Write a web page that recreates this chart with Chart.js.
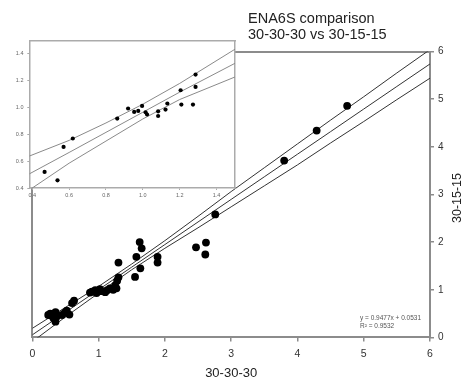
<!DOCTYPE html>
<html><head><meta charset="utf-8">
<script src="https://cdn.jsdelivr.net/npm/chart.js@4.4.1/dist/chart.umd.min.js"></script>
<style>
html,body{margin:0;padding:0;background:#fff;}
#wrap{position:relative;width:466px;height:381px;overflow:hidden;}
canvas{position:absolute;left:0;top:0;}
</style></head><body>
<div id="wrap"><canvas id="main" width="466" height="381"></canvas><canvas id="inset" width="466" height="381"></canvas></div>
<script>
// ---- text ----
const titleLines = ['ENA6S comparison', '30-30-30 vs 30-15-15'];
const xAxisTitle = '30-30-30';
const yAxisTitle = '30-15-15';
const equationLines = ['y = 0.9477x + 0.0531', 'R\u00B2 = 0.9532'];

// ---- main chart data ----
const mainTicks = [0, 1, 2, 3, 4, 5, 6];
const mainX = [0.24, 0.27, 0.32, 0.35, 0.37, 0.30, 0.35, 0.49, 0.56, 0.52, 0.45, 0.60, 0.63,
  0.87, 0.90, 0.95, 0.97, 1.02, 1.05, 1.10, 1.13, 1.17, 1.22, 1.25, 1.27, 1.28, 1.30, 1.30,
  1.55, 1.57, 1.63, 1.62, 1.65, 1.89, 1.89, 2.47, 2.62, 2.61, 2.76, 3.80, 4.29, 4.75];
const mainY = [0.47, 0.50, 0.40, 0.53, 0.44, 0.45, 0.33, 0.52, 0.48, 0.56, 0.47, 0.72, 0.77,
  0.94, 0.96, 0.99, 0.93, 1.01, 0.97, 0.95, 0.99, 1.03, 1.00, 1.09, 1.03, 1.19, 1.26, 1.57,
  1.27, 1.69, 1.45, 2.00, 1.87, 1.69, 1.57, 1.89, 1.99, 1.74, 2.58, 3.71, 4.34, 4.86];
const fitX = [0, 0.5, 1, 1.5, 2, 2.5, 3, 3.5, 4, 4.5, 5, 5.5, 6];
const fitCenter = [0.053, 0.527, 1.001, 1.475, 1.948, 2.422, 2.896, 3.370, 3.844, 4.318, 4.792, 5.266, 5.739];
const fitUpper = [0.19, 0.63, 1.07, 1.54, 2.03, 2.54, 3.06, 3.56, 4.06, 4.56, 5.05, 5.55, 6.04];
const fitLower = [-0.09, 0.43, 0.93, 1.42, 1.87, 2.30, 2.74, 3.18, 3.62, 4.08, 4.53, 4.99, 5.44];

// ---- inset data ----
const insetTicks = [0.4, 0.6, 0.8, 1.0, 1.2, 1.4];
const insetX = [0.467, 0.537, 0.57, 0.62, 0.861, 0.92, 0.953, 0.975, 0.996, 1.015, 1.023,
  1.083, 1.083, 1.123, 1.133, 1.205, 1.209, 1.272, 1.286, 1.286];
const insetY = [0.52, 0.457, 0.706, 0.769, 0.918, 0.993, 0.967, 0.975, 1.012, 0.965, 0.948,
  0.972, 0.937, 0.985, 1.03, 1.129, 1.022, 1.022, 1.154, 1.246];
const insetFitX = [0.384, 0.6, 0.8, 1.0, 1.2, 1.5];
const insetCenter = [0.505, 0.665, 0.815, 0.965, 1.115, 1.33];
const insetUpper = [0.638, 0.755, 0.885, 1.025, 1.18, 1.435];
const insetLower = [0.385, 0.585, 0.75, 0.915, 1.06, 1.228];

const FONT = 'Liberation Sans, Arial, Helvetica, sans-serif';
Chart.defaults.font.family = FONT;

const pts = (xs, ys) => xs.map((x, i) => ({x: x, y: ys[i]}));
const lineDs = (xs, ys, color, w) => ({type: 'line', data: pts(xs, ys), showLine: true, borderColor: color,
  borderWidth: w, pointRadius: 0, fill: false, tension: 0, order: 2});

const frameColor = '#8c8c8c';

const mainText = {
  id: 'mainText',
  afterDraw(chart) {
    const ctx = chart.ctx;
    ctx.save();
    ctx.fillStyle = '#222';
    ctx.font = '14.5px ' + FONT;
    ctx.textAlign = 'left';
    ctx.textBaseline = 'alphabetic';
    ctx.fillText(titleLines[0], 248, 22.7);
    ctx.fillText(titleLines[1], 248, 39.3);
    ctx.font = '12.5px ' + FONT;
    ctx.translate(458, 198);
    ctx.rotate(-Math.PI / 2);
    ctx.textAlign = 'center';
    ctx.textBaseline = 'middle';
    ctx.fillText(yAxisTitle, 0, 0);
    ctx.restore();
    ctx.save();
    ctx.fillStyle = '#555';
    ctx.font = '6.5px ' + FONT;
    ctx.textAlign = 'left';
    ctx.fillText(equationLines[0], 360, 320);
    ctx.fillText(equationLines[1], 360, 328.3);
    ctx.restore();
  }
};

const fixedTicks = arr => (s => { s.ticks = arr.map(v => ({value: v})); });

new Chart(document.getElementById('main'), {
  type: 'scatter',
  data: {
    datasets: [
      lineDs(fitX, fitUpper, '#333', 1),
      lineDs(fitX, fitCenter, '#333', 1),
      lineDs(fitX, fitLower, '#333', 1),
      {data: pts(mainX, mainY), backgroundColor: '#000', borderWidth: 0, pointRadius: 3.9, order: 1}
    ]
  },
  options: {
    responsive: false, animation: false, devicePixelRatio: 1,
    layout: {padding: 0},
    plugins: {legend: {display: false}, tooltip: {enabled: false}},
    scales: {
      x: {
        type: 'linear', position: 'bottom', min: 0, max: 6,
        afterBuildTicks: fixedTicks(mainTicks),
        afterFit: s => { s.height = 43.6; },
        grid: {display: true, drawOnChartArea: false, drawTicks: true, tickLength: 4, color: frameColor, lineWidth: 1.5},
        border: {display: true, color: frameColor, width: 2},
        ticks: {color: '#333', font: {size: 10.5}, padding: 6, maxRotation: 0},
        title: {display: true, text: xAxisTitle, color: '#222', font: {size: 13}, padding: 0}
      },
      y: {
        type: 'linear', position: 'right', min: 0, max: 6,
        afterBuildTicks: fixedTicks(mainTicks),
        afterFit: s => { s.width = 36; },
        grid: {display: true, drawOnChartArea: false, drawTicks: true, tickLength: 4, color: frameColor, lineWidth: 1.5},
        border: {display: true, color: frameColor, width: 2},
        ticks: {color: '#333', font: {size: 10}, padding: 4}
      },
      xTop: {
        type: 'linear', position: 'top', min: 0, max: 6, display: true,
        afterFit: s => { s.height = 51.5; },
        grid: {display: false, drawTicks: false},
        border: {display: true, color: frameColor, width: 2},
        ticks: {display: false}
      },
      yLeft: {
        type: 'linear', position: 'left', min: 0, max: 6, display: true,
        afterFit: s => { s.width = 32.3; },
        grid: {display: false, drawTicks: false},
        border: {display: true, color: frameColor, width: 2},
        ticks: {display: false}
      }
    }
  },
  plugins: [mainText]
});

const insetBg = {
  id: 'insetBg',
  beforeDraw(chart) {
    const a = chart.chartArea, ctx = chart.ctx;
    ctx.save();
    ctx.fillStyle = '#fff';
    ctx.fillRect(a.left, a.top, a.right - a.left, a.bottom - a.top);
    ctx.restore();
  }
};
const insetFrame = '#ababab';

new Chart(document.getElementById('inset'), {
  type: 'scatter',
  data: {
    datasets: [
      lineDs(insetFitX, insetUpper, '#8a8a8a', 1),
      lineDs(insetFitX, insetCenter, '#8a8a8a', 1),
      lineDs(insetFitX, insetLower, '#8a8a8a', 1),
      {data: pts(insetX, insetY), backgroundColor: '#000', borderWidth: 0, pointRadius: 2.1, order: 1}
    ]
  },
  options: {
    responsive: false, animation: false, devicePixelRatio: 1,
    layout: {padding: {left: 0, top: 40.5, right: 231, bottom: 0}},
    plugins: {legend: {display: false}, tooltip: {enabled: false}},
    scales: {
      x: {
        type: 'linear', position: 'bottom', min: 0.384, max: 1.5,
        afterBuildTicks: fixedTicks(insetTicks),
        afterFit: s => { s.height = 193; },
        grid: {display: true, drawOnChartArea: false, drawTicks: true, tickLength: 2, color: insetFrame, lineWidth: 1},
        border: {display: true, color: insetFrame, width: 1.5},
        ticks: {color: '#666', font: {size: 5.5}, padding: 1.7, maxRotation: 0, callback: v => v.toFixed(1)}
      },
      y: {
        type: 'linear', position: 'left', min: 0.4, max: 1.5,
        afterBuildTicks: fixedTicks(insetTicks),
        afterFit: s => { s.width = 29.3; },
        grid: {display: true, drawOnChartArea: false, drawTicks: true, tickLength: 2, color: insetFrame, lineWidth: 1},
        border: {display: true, color: insetFrame, width: 1.5},
        ticks: {color: '#666', font: {size: 5.5}, padding: 3.8, callback: v => v.toFixed(1)}
      },
      xTop: {
        type: 'linear', position: 'top', min: 0, max: 1, display: true,
        afterFit: s => { s.height = 0; },
        grid: {display: false, drawTicks: false},
        border: {display: true, color: insetFrame, width: 1.5},
        ticks: {display: false}
      },
      yRight: {
        type: 'linear', position: 'right', min: 0, max: 1, display: true,
        afterFit: s => { s.width = 0; },
        grid: {display: false, drawTicks: false},
        border: {display: true, color: insetFrame, width: 1.5},
        ticks: {display: false}
      }
    }
  },
  plugins: [insetBg]
});
</script>
</body></html>
